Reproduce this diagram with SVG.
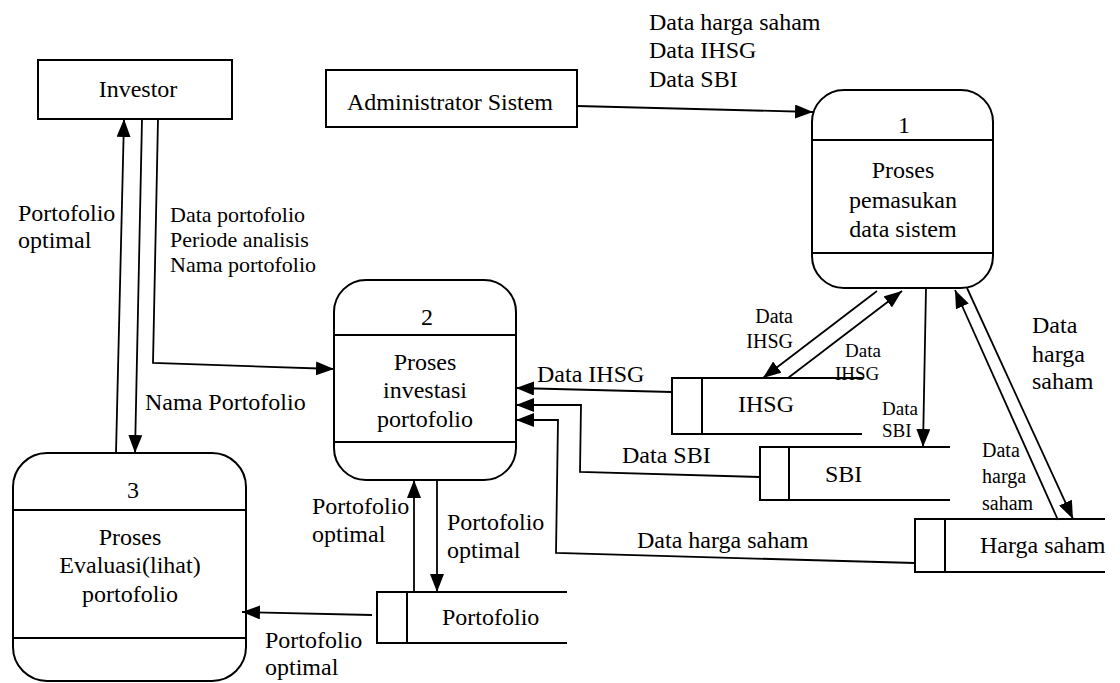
<svg xmlns="http://www.w3.org/2000/svg" width="1120" height="683" viewBox="0 0 1120 683">
<defs>
<marker id="ah" markerWidth="18" markerHeight="14" refX="18" refY="7" orient="auto" markerUnits="userSpaceOnUse"><path d="M0,0 L18,7 L0,14 z" fill="#000"/></marker>
</defs>
<style>
text{font-family:"Liberation Serif","Times New Roman",serif;font-size:24px;fill:#000}
.c{text-anchor:middle}
.r{text-anchor:end}
.m{font-size:22px}
.s{font-size:20px}
.xs{font-size:19px}
.box{fill:#fff;stroke:#000;stroke-width:2}
.st{fill:none;stroke:#000;stroke-width:2}
.ln{fill:none;stroke:#000;stroke-width:1.8}
.ar{marker-end:url(#ah)}
</style>
<rect width="1120" height="683" fill="#fff"/>

<g id="investor">
<rect class="box" x="38" y="60" width="194" height="59"/>
<text class="c" x="138" y="97">Investor</text>
</g>
<g id="admin">
<rect class="box" x="326" y="70" width="251" height="57"/>
<text x="347" y="110">Administrator Sistem</text>
</g>
<g id="proses1">
<rect class="box" x="812" y="90" width="181" height="198" rx="32"/>
<path class="st" d="M812,140 H993 M812,253 H993"/>
<text class="c" x="904" y="133">1</text>
<text class="c" x="903" y="178">Proses</text>
<text class="c" x="903" y="208">pemasukan</text>
<text class="c" x="903" y="237">data sistem</text>
</g>
<g id="proses2">
<rect class="box" x="334" y="280" width="182" height="200" rx="32"/>
<path class="st" d="M334,335 H516 M334,442 H516"/>
<text class="c" x="427" y="325">2</text>
<text class="c" x="425" y="370">Proses</text>
<text class="c" x="425" y="398">investasi</text>
<text class="c" x="425" y="427">portofolio</text>
</g>
<g id="proses3">
<rect class="box" x="13" y="453" width="233" height="228" rx="34"/>
<path class="st" d="M13,510 H246 M13,638 H246"/>
<text class="c" x="133" y="498">3</text>
<text class="c" x="130" y="545">Proses</text>
<text class="c" x="130" y="573">Evaluasi(lihat)</text>
<text class="c" x="130" y="602">portofolio</text>
</g>
<g id="store-ihsg">
<path class="st" d="M863,378 H672 V434 H862 M702,378 V434"/>
<text x="738" y="412">IHSG</text>
</g>
<g id="store-sbi">
<path class="st" d="M950,447 H760 V500 H950 M789,447 V500"/>
<text x="825" y="482">SBI</text>
</g>
<g id="store-harga">
<path class="st" d="M1105,519 H915 V572 H1105 M945,519 V572"/>
<text x="980" y="553">Harga saham</text>
</g>
<g id="store-portofolio">
<path class="st" d="M567,592 H377 V643 H567 M407,592 V643"/>
<text x="442" y="625">Portofolio</text>
</g>

<g id="connectors">
<path class="ln ar" d="M577,106 L813,112"/>
<path class="ln ar" d="M116,453 L124,119"/>
<path class="ln ar" d="M142,119 L135,453"/>
<path class="ln ar" d="M158,119 L153,363 L334,369"/>
<path class="ln ar" d="M672,392 L516,388"/>
<path class="ln ar" d="M760,477 L580,472 L581,405 L516,405"/>
<path class="ln ar" d="M915,563 L556,553 L558,420 L516,420"/>
<path class="ln ar" d="M877,291 L763,378"/>
<path class="ln ar" d="M788,378 L902,291"/>
<path class="ln ar" d="M926,288 L923,447"/>
<path class="ln ar" d="M1058,520 L955,290"/>
<path class="ln ar" d="M967,288 L1073,519"/>
<path class="ln ar" d="M414,592 L414,480"/>
<path class="ln ar" d="M437,480 L437,592"/>
<path class="ln ar" d="M372,615 L242,612"/>
</g>

<g id="labels">
<text x="649" y="30">Data harga saham</text>
<text x="649" y="58">Data IHSG</text>
<text x="649" y="87">Data SBI</text>
<text x="18" y="221">Portofolio</text>
<text x="18" y="248">optimal</text>
<text class="m" x="170" y="222">Data portofolio</text>
<text class="m" x="170" y="247">Periode analisis</text>
<text class="m" x="170" y="272">Nama portofolio</text>
<text x="145" y="410">Nama Portofolio</text>
<text x="537" y="382">Data IHSG</text>
<text x="622" y="463">Data SBI</text>
<text x="637" y="548">Data harga saham</text>
<text class="s r" x="793" y="323">Data</text>
<text class="s r" x="793" y="348">IHSG</text>
<text class="xs" x="845" y="357">Data</text>
<text class="xs" x="835" y="380">IHSG</text>
<text class="xs" x="882" y="415">Data</text>
<text class="xs" x="882" y="437">SBI</text>
<text x="1032" y="333">Data</text>
<text x="1032" y="362">harga</text>
<text x="1032" y="389">saham</text>
<text class="s" x="982" y="457">Data</text>
<text class="s" x="982" y="483">harga</text>
<text class="s" x="982" y="510">saham</text>
<text x="312" y="514">Portofolio</text>
<text x="312" y="542">optimal</text>
<text x="447" y="530">Portofolio</text>
<text x="447" y="558">optimal</text>
<text x="265" y="648">Portofolio</text>
<text x="265" y="675">optimal</text>
</g>
</svg>
